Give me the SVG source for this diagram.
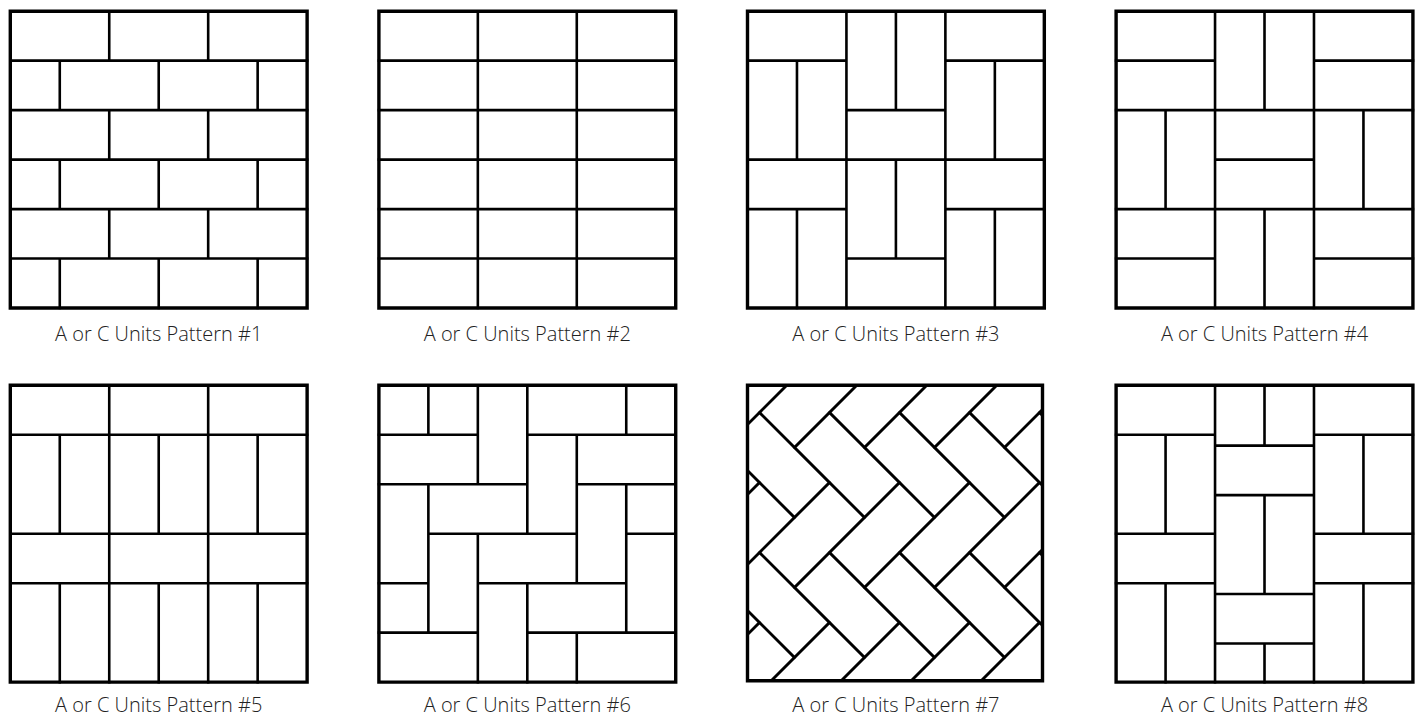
<svg xmlns="http://www.w3.org/2000/svg" xmlns:xlink="http://www.w3.org/1999/xlink" width="1421" height="718" viewBox="0 0 1421 718">
<style>
.ln{fill:none;stroke:#000;stroke-width:2.6;vector-effect:non-scaling-stroke;stroke-linecap:square}
.br{fill:none;stroke:#000;stroke-width:2.6;vector-effect:non-scaling-stroke}
.fr{fill:none;stroke:#000;stroke-width:3.4;vector-effect:non-scaling-stroke}
.lb{font-family:"Open Sans","Liberation Sans",sans-serif;font-weight:300;font-size:20px;fill:#222;text-anchor:middle}
</style>
<defs>
<g id="hb">
<rect class="br" x="0" y="0" width="1" height="2"/>
<rect class="br" x="1" y="1" width="1" height="2"/>
<rect class="br" x="2" y="2" width="1" height="2"/>
<rect class="br" x="3" y="3" width="1" height="2"/>
<rect class="br" x="1" y="0" width="2" height="1"/>
<rect class="br" x="2" y="1" width="2" height="1"/>
<rect class="br" x="3" y="2" width="2" height="1"/>
<rect class="br" x="4" y="3" width="2" height="1"/>
</g>
<clipPath id="c7"><rect x="747.5" y="385.3" width="295" height="295.5"/></clipPath>
</defs>
<rect width="1421" height="718" fill="#fff"/>

<g id="pattern1">
<g transform="translate(10.3 11.2) scale(49.47)">
<path class="ln" d="M0 1H6M0 2H6M0 3H6M0 4H6M0 5H6M2 0V1M4 0V1M1 1V2M3 1V2M5 1V2M2 2V3M4 2V3M1 3V4M3 3V4M5 3V4M2 4V5M4 4V5M1 5V6M3 5V6M5 5V6"/>
<rect class="fr" x="0" y="0" width="6" height="6"/>
</g>
<text class="lb" x="158.7" y="340.5">A or C Units Pattern #1</text>
</g>

<g id="pattern2">
<g transform="translate(378.9 11.2) scale(49.47)">
<path class="ln" d="M0 1H6M0 2H6M0 3H6M0 4H6M0 5H6M2 0V6M4 0V6"/>
<rect class="fr" x="0" y="0" width="6" height="6"/>
</g>
<text class="lb" x="527.3" y="340.5">A or C Units Pattern #2</text>
</g>

<g id="pattern3">
<g transform="translate(747.5 11.2) scale(49.47)">
<path class="ln" d="M2 0V6M4 0V6M0 3H6M0 1H2M1 1V3M3 0V2M2 2H4M4 1H6M5 1V3M0 4H2M1 4V6M3 3V5M2 5H4M4 4H6M5 4V6"/>
<rect class="fr" x="0" y="0" width="6" height="6"/>
</g>
<text class="lb" x="895.9" y="340.5">A or C Units Pattern #3</text>
</g>

<g id="pattern4">
<g transform="translate(1116.1 11.2) scale(49.47)">
<path class="ln" d="M2 0V6M4 0V6M0 2H6M0 4H6M0 1H2M3 0V2M4 1H6M1 2V4M2 3H4M5 2V4M0 5H2M3 4V6M4 5H6"/>
<rect class="fr" x="0" y="0" width="6" height="6"/>
</g>
<text class="lb" x="1264.5" y="340.5">A or C Units Pattern #4</text>
</g>

<g id="pattern5">
<g transform="translate(10.3 385.3) scale(49.47)">
<path class="ln" d="M0 1H6M0 3H6M0 4H6M2 0V6M4 0V6M1 1V3M3 1V3M5 1V3M1 4V6M3 4V6M5 4V6"/>
<rect class="fr" x="0" y="0" width="6" height="6"/>
</g>
<text class="lb" x="158.7" y="712">A or C Units Pattern #5</text>
</g>

<g id="pattern6">
<g transform="translate(378.9 385.3) scale(49.47)">
<path class="ln" d="M1 0V1M1 2V5M2 0V2M2 3V6M3 0V3M3 4V6M4 1V4M4 5V6M5 0V1M5 2V5M0 1H2M3 1H6M0 2H3M4 2H6M1 3H4M5 3H6M0 4H1M2 4H5M0 5H2M3 5H6"/>
<rect class="fr" x="0" y="0" width="6" height="6"/>
</g>
<text class="lb" x="527.3" y="712">A or C Units Pattern #6</text>
</g>

<g id="pattern7">
<g clip-path="url(#c7)">
<g transform="matrix(35 35 35 -35 759.5 412.5)">
<use xlink:href="#hb" transform="translate(-4 -8)"/>
<use xlink:href="#hb" transform="translate(0 -8)"/>
<use xlink:href="#hb" transform="translate(4 -8)"/>
<use xlink:href="#hb" transform="translate(-4 -4)"/>
<use xlink:href="#hb" transform="translate(0 -4)"/>
<use xlink:href="#hb" transform="translate(4 -4)"/>
<use xlink:href="#hb" transform="translate(-4 0)"/>
<use xlink:href="#hb" transform="translate(0 0)"/>
<use xlink:href="#hb" transform="translate(4 0)"/>
<use xlink:href="#hb" transform="translate(-4 4)"/>
<use xlink:href="#hb" transform="translate(0 4)"/>
<use xlink:href="#hb" transform="translate(4 4)"/>
</g>
</g>
<rect class="fr" x="747.5" y="385.3" width="295" height="295.5"/>
<text class="lb" x="895.9" y="712">A or C Units Pattern #7</text>
</g>

<g id="pattern8">
<g transform="translate(1116.1 385.3) scale(49.47)">
<path class="ln" d="M2 0V6M4 0V6M0 1H2M1 1V3M0 3H2M0 4H2M1 4V6M4 1H6M5 1V3M4 3H6M4 4H6M5 4V6M3 0V1.22M2 1.22H4M2 2.22H4M3 2.22V4.22M2 4.22H4M2 5.22H4M3 5.22V6"/>
<rect class="fr" x="0" y="0" width="6" height="6"/>
</g>
<text class="lb" x="1264.5" y="712">A or C Units Pattern #8</text>
</g>
</svg>
